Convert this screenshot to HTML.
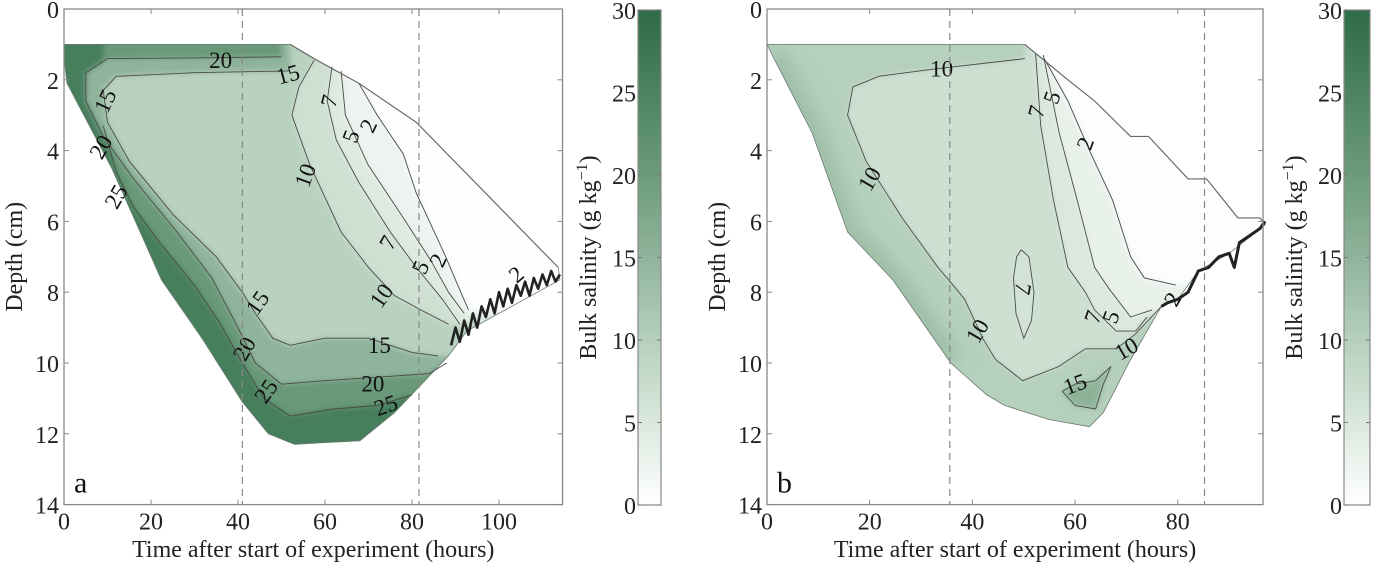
<!DOCTYPE html>
<html><head><meta charset="utf-8"><style>
html,body{margin:0;padding:0;background:#fff;}
svg{display:block;}
text{font-family:"Liberation Serif","Times New Roman",Times,"DejaVu Serif",serif;}
</style></head><body>
<svg id="fig" width="1400" height="568" viewBox="0 0 1400 568" xmlns="http://www.w3.org/2000/svg">
<defs>
<filter id="blur3" x="-20%" y="-20%" width="140%" height="140%"><feGaussianBlur stdDeviation="3"/></filter>
<filter id="blur8" x="-20%" y="-20%" width="140%" height="140%"><feGaussianBlur stdDeviation="8"/></filter>
<linearGradient id="cbgrad" x1="0" y1="1" x2="0" y2="0">
<stop offset="0" stop-color="#ffffff"/><stop offset="0.3333" stop-color="#b5d0bc"/><stop offset="0.5" stop-color="#90b49b"/><stop offset="0.6667" stop-color="#6c9b7b"/><stop offset="1" stop-color="#2e6b47"/></linearGradient>
<clipPath id="clipA"><polygon id="clipApoly"/></clipPath>
<clipPath id="clipB"><polygon id="clipBpoly"/></clipPath>
</defs>
<g id="layerA"></g>
<g id="layerB"></g>
</svg>
<script>
// ===== Panel A data (time h, depth cm) =====
const boundaryA = [[0,1],[52,1],[57.5,1.4],[67.8,2.1],[81,3.2],[113.6,7.3],[114,7.65],[92.6,9.1],[88.4,9.8],[76,11.4],[68,12.2],[60,12.25],[53,12.3],[47,12],[41,11.1],[31.7,9.3],[22.4,7.65],[11,4.5],[0.7,2.1],[0,1.4]];
const surfaceA = [[52,1],[57.5,1.4],[67.8,2.1],[81,3.2],[113.6,7.3]];
const jaggedA = [[89,9.5],[90,9.0],[91,9.4],[92,8.8],[93,9.2],[94,8.6],[95,9.0],[96,8.4],[97,8.7],[98,8.2],[99,8.6],[100,8.0],[101,8.4],[102,7.9],[103,8.3],[104,7.8],[105,8.1],[106,7.7],[107,8.1],[108,7.6],[109,7.9],[110,7.5],[111,7.8],[112,7.4],[113,7.7],[114,7.5]];
const c25A = [[9,3.3],[12,4.6],[16,5.6],[22,6.6],[30,7.8],[36,8.9],[41,10.0],[46,11.0],[52,11.5],[62,11.3],[72,11.2],[80,10.9]];
const c20A = [[50,1.35],[30,1.38],[10,1.4],[5,1.8],[5,2.6],[9,3.6],[16,4.8],[26,6.3],[34,7.6],[40,9.0],[44,10.0],[50,10.6],[60,10.5],[72,10.4],[84,10.3],[88,10.0]];
const c15A = [[52,1.75],[30,1.8],[12,1.9],[9,2.3],[10,3.2],[15,4.3],[25,5.8],[35,7.0],[41,8.0],[44,8.6],[48,9.3],[52,9.5],[60,9.3],[70,9.3],[80,9.7],[86,9.8]];
const c10A = [[57.5,1.45],[54,2.2],[52.4,3.0],[56.5,4.4],[63.7,6.3],[70,7.3],[76,8.1],[82,8.5],[88.4,8.9]];
const c7A = [[61.6,1.63],[60.5,2.6],[62.6,3.7],[67.8,4.9],[75,6.3],[81,7.3],[87,8.2],[91,8.9]];
const c5A = [[63.7,1.75],[64.7,3.0],[69.9,4.4],[78,5.9],[84.3,7.1],[88.4,8.0],[92,8.6]];
const c2A = [[67.8,2.1],[72,3.0],[78,4.1],[81,5.2],[87.4,6.9],[90.5,7.8],[93,8.5]];
const labelsA = [["20",36,1.45,0],["15",51.5,1.85,-15],["15",9.5,2.6,-65],["20",8.5,3.9,-60],["25",12,5.3,-60],["10",55.5,4.7,-70],["7",61,2.6,-75],["5",66,3.6,-70],["2",70,3.3,-65],["7",74.5,6.6,-60],["10",73,8.1,-55],["5",82,7.3,-65],["2",86,7.1,-65],["15",44.5,8.3,-55],["20",41.5,9.6,-60],["25",46.5,10.8,-55],["15",72.5,9.5,0],["20",71,10.6,0],["25",74,11.2,-20],["2",104,7.5,-40]];
const dashedA = [41,81.6];
const xTicksA = [0,20,40,60,80,100];
// ===== Panel B data =====
const boundaryB = [[0,1],[50.2,1],[58.6,2.0],[63.8,2.6],[70.8,3.6],[74.3,3.6],[82,4.8],[85.6,4.8],[91.7,5.9],[96,5.9],[97,6.1],[90,6.9],[84,7.4],[80,8.2],[76.8,8.4],[70.8,9.9],[65.5,11.4],[62.8,11.8],[55,11.6],[46.3,11.2],[42.8,10.9],[35.8,10.0],[24.5,7.65],[15.7,6.3],[8.8,3.5],[1,1.3]];
const surfaceB = [[50.2,1],[58.6,2.0],[63.8,2.6],[70.8,3.6],[74.3,3.6],[82,4.8],[85.6,4.8],[91.7,5.9],[96,5.9],[97,6.1]];
const jaggedB = [[76.8,8.4],[78,8.3],[80,8.2],[82,8.0],[84,7.4],[86,7.3],[88,7.0],[90,6.9],[91,7.3],[92,6.6],[94,6.4],[96,6.2],[97,6.0]];
const c10B = [[50.2,1.4],[32.3,1.7],[21.8,1.9],[16.7,2.2],[15.7,3.0],[19.3,4.3],[26.3,5.9],[33.3,7.3],[36.8,7.9],[38.5,8.2],[42,9.3],[44.5,9.9],[49.8,10.5],[56.8,10.1],[62,9.6],[68,9.6],[71.6,9.2],[76.8,8.4]];
const c7loopB = [[49.5,6.8],[51,7.0],[52,8.0],[51.5,8.8],[50,9.3],[48.5,8.6],[48,7.6],[48.6,7.0],[49.5,6.8]];
const c7B = [[52.3,1.25],[53.3,3.3],[55.8,5.4],[58.6,7.3],[62,8.0],[63.8,8.5],[68,9.1],[71.8,9.1],[74,8.7]];
const c5B = [[53.8,1.3],[56.9,3.5],[60.4,5.4],[63.8,7.3],[66.6,7.9],[70.8,8.7],[75,8.5]];
const c2B = [[54,1.4],[58.6,2.6],[62.8,4.0],[67.3,5.4],[70.8,7.0],[73.5,7.6],[79.6,7.8]];
const c15loopB = [[57.5,10.8],[60,11.2],[64,11.3],[65.5,10.6],[67,10.1],[64,10.5],[60,10.6],[57.5,10.8]];
const labelsB = [["10",34,1.7,0],["10",20,4.8,-60],["7",52.5,2.9,-75],["5",55.5,2.5,-70],["2",62,3.8,-70],["7",49.8,7.9,100],["10",41,9.1,-60],["7",63.5,8.7,-70],["5",67,8.7,-70],["10",70,9.6,-30],["15",60,10.6,-20],["2",79,8.2,-60]];
const dashedB = [35.6,85.2];
const xTicksB = [0,20,40,60,80];
// ===== shared =====
const yTicks = [0,2,4,6,8,10,12,14];
const cbTicks = [0,5,10,15,20,25,30];

const NS = "http://www.w3.org/2000/svg";
const FONT = "'Liberation Serif', 'Times New Roman', Times, 'DejaVu Serif', serif";
function mk(tag, attrs, parent){ const e=document.createElementNS(NS,tag); for(const k in attrs) e.setAttribute(k,attrs[k]); if(tag==="text") e.style.fontFamily=FONT; parent.appendChild(e); return e; }
const stopsV = [0,10,15,20,30];
const stopsC = [[255,255,255],[181,208,188],[144,180,155],[108,155,123],[46,107,71]];
function col(v){ v=Math.max(0,Math.min(30,v)); let i=0; while(i<stopsV.length-2 && v>stopsV[i+1]) i++;
  const f=(v-stopsV[i])/(stopsV[i+1]-stopsV[i]); const a=stopsC[i], b=stopsC[i+1];
  return `rgb(${Math.round(a[0]+(b[0]-a[0])*f)},${Math.round(a[1]+(b[1]-a[1])*f)},${Math.round(a[2]+(b[2]-a[2])*f)})`; }
const Y = d => 9 + d*35.4;

function panel(cfg){
  const L = document.getElementById(cfg.layer);
  const X = t => cfg.x0 + t*cfg.sx;
  const pts = arr => arr.map(p=>X(p[0]).toFixed(1)+","+Y(p[1]).toFixed(1)).join(" ");
  const x1 = cfg.x0, x2 = X(cfg.tmax), y1=Y(0), y2=Y(14);
  document.getElementById(cfg.clip+"poly").setAttribute("points", pts(cfg.boundary));
  const field = mk("g",{"clip-path":`url(#${cfg.clip})`},L);
  
  
  mk("polygon",{points:pts(cfg.boundary),fill:col(cfg.baseVal)},field);
  const bl = mk("g",{filter:"url(#blur3)"},field);
  cfg.bands.forEach(b=>{
    const e = mk("polygon",{points:pts(b.poly),fill:col(b.v)},bl);
    
    
  });
  if(cfg.edge){ const bl2 = mk("g",{filter:"url(#blur8)"},field);
    mk("polyline",{points:pts(cfg.edge.pts),fill:"none",stroke:col(cfg.edge.v),"stroke-width":cfg.edge.w},bl2); }
  const ob = mk("polygon",{points:pts(cfg.boundary),fill:"none",stroke:"#6a7a6e","stroke-width":0.8},L);
  
  
  cfg.contours.forEach(c=>{
    const e = mk("polyline",{points:pts(c),fill:"none",stroke:"#4a4a4a","stroke-width":0.9},L);
    
    
  });
  const s = mk("polyline",{points:pts(cfg.surface),fill:"none",stroke:"#666","stroke-width":1.1},L);
  
  
  const j = mk("polyline",{points:pts(cfg.jagged),fill:"none",stroke:"#222","stroke-width":cfg.jw,"stroke-linejoin":"round"},L);
  
  
  cfg.labels.forEach(l=>{
    const x=X(l[1]), y=Y(l[2]);
    const t = mk("text",{x:x,y:y,"font-size":23,"text-anchor":"middle","dominant-baseline":"central",fill:"#111",transform:`rotate(${l[3]} ${x} ${y})`},L);
    t.textContent=l[0];
    
    
  });
  cfg.dashed.forEach(t=>{
    const e = mk("line",{x1:X(t),x2:X(t),y1:y1,y2:y2,stroke:"#888","stroke-width":1.2,"stroke-dasharray":"7,5"},L);
    
    
  });
  const box = mk("rect",{x:x1,y:y1,width:x2-x1,height:y2-y1,fill:"none",stroke:"#888","stroke-width":1.3},L);
  
  
  cfg.xticks.forEach(t=>{
    mk("line",{x1:X(t),x2:X(t),y1:y2,y2:y2-5,stroke:"#888"},L);
    mk("line",{x1:X(t),x2:X(t),y1:y1,y2:y1+5,stroke:"#888"},L);
    const e = mk("text",{x:X(t),y:y2+25,"font-size":24,"text-anchor":"middle",fill:"#222"},L);
    e.textContent=t;
    
    
  });
  yTicks.forEach(d=>{
    mk("line",{x1:x1,x2:x1+5,y1:Y(d),y2:Y(d),stroke:"#888"},L);
    mk("line",{x1:x2,x2:x2-5,y1:Y(d),y2:Y(d),stroke:"#888"},L);
    const e = mk("text",{x:x1-5,y:Y(d)+9,"font-size":24,"text-anchor":"end",fill:"#222"},L);
    e.textContent=d;
    
    
  });
  const xt = mk("text",{x:(x1+x2)/2,y:557,"font-size":24,"text-anchor":"middle",fill:"#222"},L);
  xt.textContent="Time after start of experiment (hours)";
  
  
  const yt = mk("text",{x:0,y:0,"font-size":24,"text-anchor":"middle",fill:"#222",transform:`translate(${x1-42},${Y(7)}) rotate(-90)`},L);
  yt.textContent="Depth (cm)";
  
  
  const pl = mk("text",{x:x1+10,y:y2-12,"font-size":30,fill:"#111"},L);
  pl.textContent=cfg.letter;
  
  
  const cx=cfg.cbx, cw=cfg.cbw, CY = v => 505 - v/30*495;
  const cb = mk("rect",{x:cx,y:CY(30),width:cw,height:495,fill:"url(#cbgrad)",stroke:"#888","stroke-width":1.2},L);
  
  
  cbTicks.forEach(v=>{
    mk("line",{x1:cx,x2:cx+4,y1:CY(v),y2:CY(v),stroke:"#777"},L);
    mk("line",{x1:cx+cw,x2:cx+cw-4,y1:CY(v),y2:CY(v),stroke:"#777"},L);
    const e = mk("text",{x:cx-2,y:CY(v)+9,"font-size":24,"text-anchor":"end",fill:"#222"},L);
    e.textContent=v;
    
    
  });
  const ct = mk("text",{x:0,y:0,"font-size":24,"text-anchor":"middle",fill:"#222",transform:`translate(${cx-42},${CY(15)}) rotate(-90)`},L);
  ct.innerHTML='Bulk salinity (g kg<tspan dy="-9" font-size="16">\u22121</tspan><tspan dy="9">)</tspan>';
  
  
}
function closeRight(c, tEnd){ const a=c.slice(); const last=a[a.length-1]; a.push([tEnd,last[1]],[tEnd,-1],[a[0][0],-1]); return a; }

panel({layer:"layerA",name:"panel-a",clip:"clipA",x0:64,sx:4.35,tmax:114.6,letter:"a",boundary:boundaryA,surface:surfaceA,jagged:jaggedA,jw:2.6,
  baseVal:26,
  bands:[{poly:closeRight(c25A,130),v:20.5},{poly:closeRight(c20A,130),v:15},{poly:closeRight(c15A,130),v:9.5},
         {poly:closeRight(c10A,130),v:6.5},{poly:closeRight(c7A,130),v:4.5},{poly:closeRight(c5A,130),v:2.5},{poly:closeRight(c2A,130),v:0.3}],
  contours:[c25A,c20A,c15A,c10A,c7A,c5A,c2A],labels:labelsA,dashed:dashedA,xticks:xTicksA,cbx:638,cbw:23});
panel({layer:"layerB",name:"panel-b",clip:"clipB",x0:767,sx:5.135,tmax:96.6,letter:"b",boundary:boundaryB,surface:surfaceB,jagged:jaggedB,jw:3,
  baseVal:10,
  bands:[{poly:closeRight(c10B,110),v:6.8},{poly:c7loopB,v:6},{poly:closeRight(c7B,110),v:5},{poly:closeRight(c5B,110),v:3},{poly:closeRight(c2B,110),v:0.4},{poly:c15loopB,v:15.5}],
  edge:{pts:[[1,1.3],[8.8,3.5],[15.7,6.3],[24.5,7.65],[35.8,10.0]],v:13,w:26},
  contours:[c10B,c7loopB,c7B,c5B,c2B,c15loopB],labels:labelsB,dashed:dashedB,xticks:xTicksB,cbx:1344,cbw:26});
</script>
</body></html>
